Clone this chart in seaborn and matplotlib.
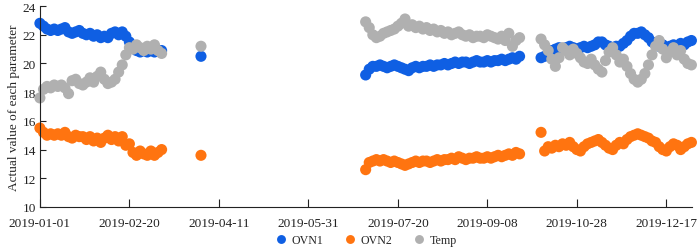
import numpy as np
import pandas as pd
import matplotlib.pyplot as plt
import matplotlib.dates as mdates
import seaborn as sns

# readings taken every second day, in three runs plus one lone reading in spring
run_starts = ['2019-01-01', '2019-04-01', '2019-07-02', '2019-10-08']

ovn1 = [
    [22.8, 22.6, 22.4, 22.3, 22.4, 22.3, 22.4, 22.5, 22.2, 22.1, 22.2, 22.3, 22.1, 22.0, 22.1, 21.9,
     22.0, 21.8, 21.9, 21.8, 22.1, 22.2, 22.0, 22.2, 21.9, 21.5, 21.2, 20.9, 20.8, 20.9, 20.8, 20.9,
     20.8, 20.9, 20.9],
    [20.5],
    [19.2, 19.6, 19.8, 19.8, 19.9, 19.8, 19.7, 19.8, 19.9, 19.8, 19.7, 19.6, 19.5, 19.7, 19.8, 19.7,
     19.8, 19.8, 19.9, 19.8, 19.9, 19.9, 20.0, 19.9, 20.0, 20.1, 20.0, 20.1, 20.1, 20.0, 20.1, 20.2,
     20.1, 20.1, 20.2, 20.1, 20.2, 20.2, 20.3, 20.2, 20.3, 20.4, 20.3, 20.5],
    [20.4, 20.5, 20.6, 20.9, 21.0, 21.1, 21.0, 21.1, 21.2, 21.1, 21.0, 21.1, 21.2, 21.1, 21.2, 21.3,
     21.5, 21.5, 21.3, 21.2, 21.1, 21.2, 21.2, 21.4, 21.6, 21.9, 22.1, 22.1, 22.2, 22.0, 21.8, 21.5,
     21.3, 21.2, 21.3, 21.1, 21.2, 21.3, 21.2, 21.4, 21.3, 21.5, 21.6],
]

ovn2 = [
    [15.5, 15.2, 15.0, 15.1, 15.0, 15.1, 15.0, 15.2, 14.9, 14.8, 15.0, 14.9, 14.9, 14.7, 14.9, 14.6,
     14.8, 14.5, 14.8, 15.0, 14.7, 14.9, 14.6, 14.9, 14.3, 14.4, 13.8, 13.6, 13.9, 13.7, 13.6, 13.9,
     13.6, 13.8, 14.0],
    [13.6],
    [12.6, 13.1, 13.2, 13.3, 13.2, 13.3, 13.2, 13.1, 13.2, 13.1, 13.0, 12.9, 13.0, 13.1, 13.2, 13.1,
     13.2, 13.2, 13.1, 13.2, 13.3, 13.2, 13.3, 13.3, 13.4, 13.3, 13.5, 13.4, 13.3, 13.4, 13.4, 13.5,
     13.4, 13.4, 13.5, 13.4, 13.5, 13.6, 13.5, 13.6, 13.7, 13.6, 13.8, 13.7],
    [15.2, 13.9, 14.2, 14.1, 14.3, 14.2, 14.4, 14.3, 14.5, 14.2, 14.0, 13.9, 14.2, 14.4, 14.5, 14.6,
     14.7, 14.5, 14.3, 14.1, 14.0, 14.3, 14.5, 14.4, 14.7, 14.9, 15.0, 15.1, 15.0, 14.9, 14.8, 14.6,
     14.5, 14.2, 14.0, 13.9, 14.2, 14.4, 14.3, 14.0, 14.2, 14.4, 14.5],
]

temp = [
    [17.6, 18.2, 18.4, 18.3, 18.5, 18.4, 18.5, 18.3, 17.9, 18.8, 18.9, 18.6, 18.5, 18.7, 19.0, 18.7,
     19.1, 19.4, 18.9, 18.6, 18.7, 18.9, 19.4, 19.9, 20.6, 21.1, 21.0, 21.3, 21.1, 20.9, 21.2, 21.0,
     21.3, 20.9, 20.7],
    [21.2],
    [22.9, 22.5, 22.0, 21.8, 21.9, 22.1, 22.2, 22.3, 22.4, 22.6, 22.8, 23.1, 22.6, 22.7, 22.5, 22.6,
     22.4, 22.5, 22.3, 22.4, 22.2, 22.3, 22.1, 22.2, 22.0, 22.1, 22.2, 22.0, 21.9, 22.0, 21.8, 21.9,
     21.9, 21.8, 22.0, 21.9, 21.8, 21.7, 21.9, 21.6, 22.1, 21.2, 21.6, 21.8],
    [21.7, 21.3, 20.9, 20.3, 19.8, 20.4, 21.1, 20.9, 20.6, 21.0, 20.7, 20.4, 20.1, 20.0, 20.3, 19.9,
     19.6, 19.4, 20.2, 20.8, 21.1, 20.6, 20.1, 20.3, 19.8, 19.3, 18.9, 18.7, 18.9, 19.3, 19.9, 20.6,
     21.2, 21.6, 21.0, 20.4, 20.8, 21.1, 20.6, 20.9, 20.3, 20.0, 19.9],
]

series = {'OVN1': ovn1, 'OVN2': ovn2, 'Temp': temp}
colors = {'OVN1': '#0f5fe3', 'OVN2': '#ff7410', 'Temp': '#b0b0b0'}

rows = []
for name, runs in series.items():
    for start, vals in zip(run_starts, runs):
        dates = pd.date_range(start, periods=len(vals), freq='2D')
        rows.append(pd.DataFrame({'date': dates, 'value': vals, 'param': name}))
df = pd.concat(rows, ignore_index=True)

sns.set_style('white')
plt.rcParams['font.family'] = ['Liberation Serif', 'DejaVu Serif']

fig, ax = plt.subplots(figsize=(7, 2.53), dpi=100)
fig.subplots_adjust(left=0.057, right=0.989, top=0.972, bottom=0.178)

sns.scatterplot(data=df, x='date', y='value', hue='param', palette=colors,
                s=64, linewidth=0, alpha=1, ax=ax, clip_on=False)

ax.set_xlim(pd.Timestamp('2019-01-01'), pd.Timestamp('2019-12-31 12:00'))
ax.set_ylim(10, 24)
ax.set_yticks(np.arange(10, 25, 2))
ax.set_xticks(pd.date_range('2019-01-01', '2019-12-31', freq='50D'))
ax.xaxis.set_major_formatter(mdates.DateFormatter('%Y-%m-%d'))

ax.set_xlabel('')
ax.set_ylabel('Actual value of each parameter', fontsize=9.5, labelpad=2)
ax.tick_params(axis='x', direction='in', length=6, width=0.8, labelsize=9.5, pad=7)
ax.tick_params(axis='y', direction='in', length=4, width=0.8, labelsize=9.5, pad=3)
ax.tick_params(bottom=True, left=True, colors='#222222')

sns.despine(ax=ax)
for sp in ['left', 'bottom']:
    ax.spines[sp].set_color('#222222')
    ax.spines[sp].set_linewidth(0.8)

ax.legend(loc='center', bbox_to_anchor=(0.5, -0.165), ncol=3, frameon=False,
          fontsize=8.6, handlelength=1.0, handletextpad=0.4, columnspacing=1.7,
          markerscale=0.8, borderaxespad=0)

fig.savefig('out.png', dpi=100)
